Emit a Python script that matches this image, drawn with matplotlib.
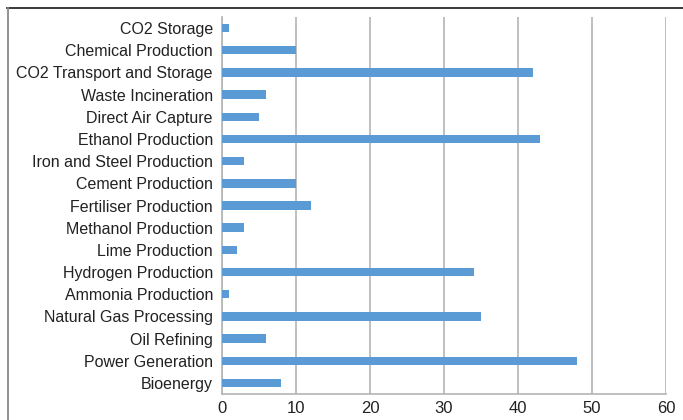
import matplotlib
matplotlib.use("Agg")
import matplotlib.pyplot as plt
from matplotlib.lines import Line2D

categories = ["Bioenergy", "Power Generation", "Oil Refining", "Natural Gas Processing",
              "Ammonia Production", "Hydrogen Production", "Lime Production",
              "Methanol Production", "Fertiliser Production", "Cement Production",
              "Iron and Steel Production", "Ethanol Production", "Direct Air Capture",
              "Waste Incineration", "CO2 Transport and Storage", "Chemical Production",
              "CO2 Storage"]
values = [8, 48, 6, 35, 1, 34, 2, 3, 12, 10, 3, 43, 5, 6, 42, 10, 1]
xticks = [0, 10, 20, 30, 40, 50, 60]

plt.rcParams['font.family'] = ['Liberation Sans', 'DejaVu Sans']

fig = plt.figure(figsize=(6.83, 4.20), dpi=100)
ax = fig.add_axes([222/683, 1-394/420, (666-222)/683, (394-17)/420])

ypos = list(range(len(categories)))
ax.barh(ypos, values, height=0.38, color="#5B9BD5", zorder=3)
ax.set_yticks(ypos)
ax.set_yticklabels(categories, fontsize=11.5, color="#222222")
ax.set_xticks(xticks)
ax.set_xticklabels([str(t) for t in xticks], fontsize=12, color="#222222")
ax.set_xlim(0, 60)
ax.set_ylim(-0.5, len(categories) - 0.5)
ax.tick_params(axis='both', length=0)
ax.tick_params(axis='y', pad=6.5)
ax.tick_params(axis='x', pad=5)
ax.grid(axis='x', color="#B4B4B4", linewidth=1.2, zorder=0)
for s in ['top', 'right']:
    ax.spines[s].set_visible(False)
for s in ['left', 'bottom']:
    ax.spines[s].set_color("#B4B4B4")
    ax.spines[s].set_linewidth(1.2)

# outer frame
fig.add_artist(Line2D([7/683, 1.0], [1-7.5/420, 1-7.5/420], transform=fig.transFigure,
                      color="#2a2a2a", linewidth=1.3))
fig.add_artist(Line2D([7.5/683, 7.5/683], [0, 1-7.5/420], transform=fig.transFigure,
                      color="#8a8a8a", linewidth=1.3))

fig.savefig("out.png", dpi=100)
